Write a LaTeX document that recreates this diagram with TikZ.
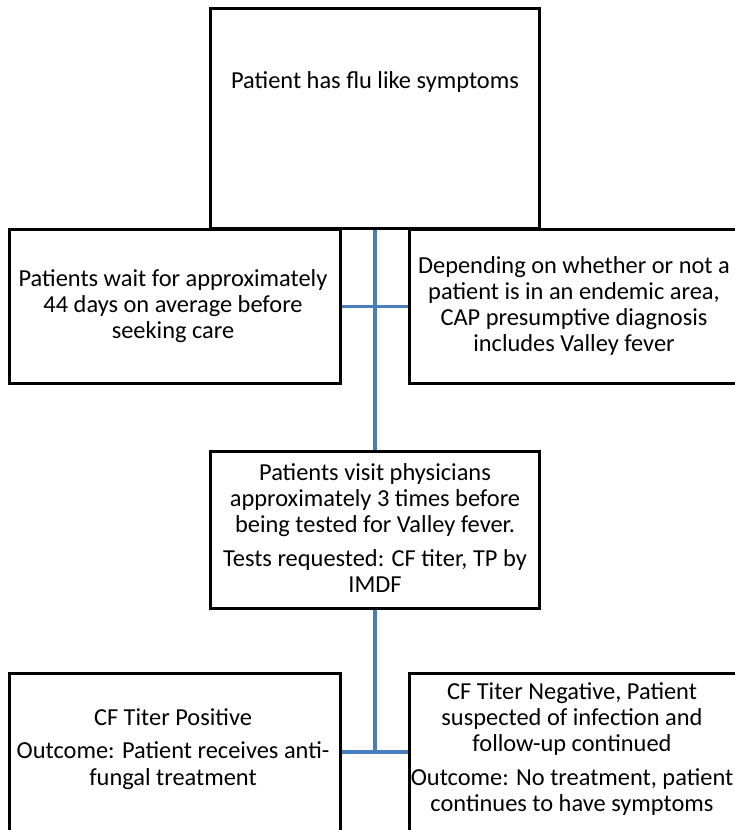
\documentclass[tikz,border=0pt]{standalone}
\usepackage{fontspec}
\setmainfont{Carlito}
\definecolor{conn}{RGB}{74,126,187}
\begin{document}
\begin{tikzpicture}[x=1pt,y=1pt,
  txt/.style={align=center, inner sep=0pt, font=\fontsize{24.4}{26.3}\selectfont},
  box/.style={draw=black, line width=3pt, fill=white},
  wbox/.style={box, minimum width=331pt, minimum height=154pt},
  link/.style={draw=conn, line width=3.5pt}]
\useasboundingbox (0,0) rectangle (735,-830);
\begin{scope}
\clip (0,0) rectangle (735,-830);
\coordinate (j2) at (375,-752);
% boxes
\node[box, minimum width=329pt, minimum height=220pt] (top) at (375,-118.5) {};
\node[box, minimum width=329pt, minimum height=157pt] (mid) at (375,-530) {};
\node[wbox] (l2) at (175,-306.5) {};
\node[wbox] (r2) at (575,-306.5) {};
\node[wbox, minimum height=162pt] (bl) at (175,-754) {};
\node[wbox, minimum height=162pt] (br) at (575,-754) {};
% connectors
\draw[link] (top.south) -- (mid.north);
\draw[link] (l2.east) -- (r2.west);
\draw[link] (mid.south) -- (j2);
\draw[link] (bl.east |- j2) -- (br.west |- j2);
% texts
\node[txt] (toptext) at (375,-82) {Patient has flu like symptoms};
\node[txt] (midtext) at (375,-528) {Patients visit physicians\\approximately 3 times before\\being tested for Valley fever.\\[7pt]Tests requested: CF titer, TP by\\IMDF};
\node[txt] (l2text) at (173,-306) {Patients wait for approximately\\44 days on average before\\seeking care};
\node[txt] (r2text) at (574,-306) {Depending on whether or not a\\patient is in an endemic area,\\CAP presumptive diagnosis\\includes Valley fever};
\node[txt] (bltext) at (173,-749) {CF Titer Positive\\[7pt]Outcome: Patient receives anti-\\fungal treatment};
\node[txt] (brtext) at (572,-749) {CF Titer Negative, Patient\\suspected of infection and\\follow-up continued\\[7pt]Outcome: No treatment, patient\\continues to have symptoms};
\end{scope}
\end{tikzpicture}
\end{document}
